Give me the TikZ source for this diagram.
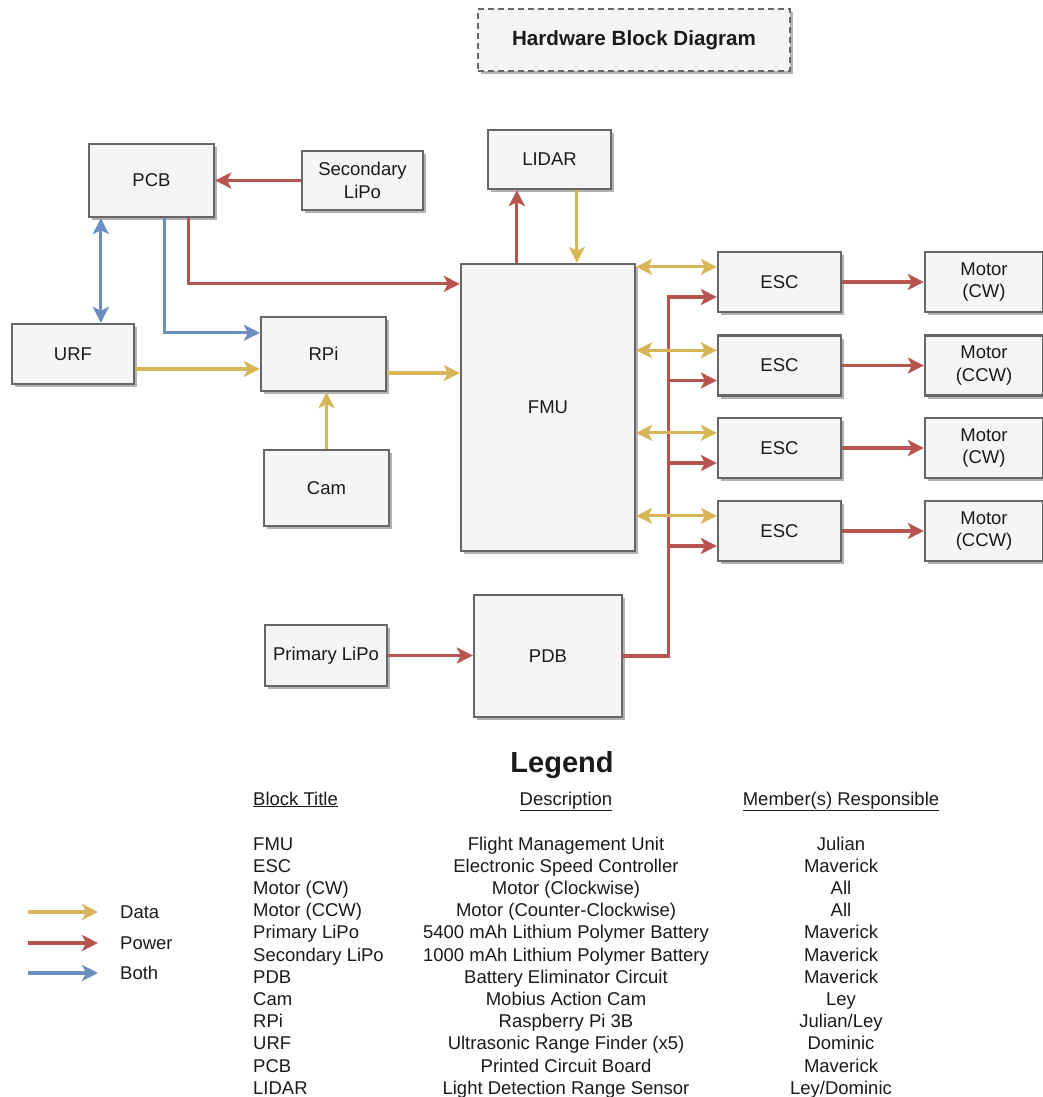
\documentclass[tikz,border=0pt]{standalone}
\usepackage{fontspec}
\setmainfont{Liberation Sans}
\usetikzlibrary{arrows.meta,shadows}
\definecolor{boxfill}{HTML}{F5F5F5}
\definecolor{boxline}{HTML}{666666}
\definecolor{datac}{HTML}{D6B656}
\definecolor{powerc}{HTML}{B85450}
\definecolor{bothc}{HTML}{6C8EBF}
\definecolor{ink}{HTML}{1A1A1A}

\begin{document}
\begin{tikzpicture}[x=1pt,y=-1pt,
  >={Stealth[length=16pt,width=16pt,inset=4pt]},
  blk/.style={draw=boxline, fill=boxfill, line width=2.3pt, inner sep=0pt,
    align=center, text=ink, font=\fontsize{18.5}{22.5}\selectfont,
    drop shadow={shadow xshift=2.5pt,shadow yshift=-3pt,opacity=0.3,fill=black}},
  dataln/.style={draw=datac, line width=3.2pt},
  powln/.style={draw=powerc, line width=3.2pt, line join=miter},
  bothln/.style={draw=bothc, line width=3.2pt, line join=miter},
  txt/.style={text=ink, inner sep=0pt, font=\fontsize{18.5}{22}\selectfont},
]
\useasboundingbox (0,0) rectangle (1042,1097);

% title
\node[blk, dash pattern=on 6pt off 4pt, minimum width=312pt, minimum height=62pt,
  font=\fontsize{20.6}{24}\selectfont\bfseries] (title) at (634,40) {Hardware Block Diagram};

% blocks
\node[blk, minimum width=125pt, minimum height=73pt] (pcb) at (151.5,180.5) {PCB};
\node[blk, minimum width=121pt, minimum height=59pt] (slipo) at (362.5,180.5) {Secondary\\LiPo};
\node[blk, minimum width=123pt, minimum height=59pt] (lidar) at (549.5,159.5) {LIDAR};
\node[blk, minimum width=122pt, minimum height=60pt] (urf) at (73,354) {URF};
\node[blk, minimum width=125pt, minimum height=74pt] (rpi) at (323.5,354) {RPi};
\node[blk, minimum width=125pt, minimum height=76pt] (cam) at (326.5,488) {Cam};
\node[blk, minimum width=174pt, minimum height=287pt] (fmu) at (548,407.5) {FMU};
\node[blk, minimum width=122pt, minimum height=61pt] (plipo) at (326,655.5) {Primary LiPo};
\node[blk, minimum width=148pt, minimum height=122pt] (pdb) at (548,656) {PDB};

\node[blk, minimum width=123pt, minimum height=60pt] (esc1) at (779.5,282) {ESC};
\node[blk, minimum width=123pt, minimum height=60pt] (esc2) at (779.5,365.5) {ESC};
\node[blk, minimum width=123pt, minimum height=60pt] (esc3) at (779.5,448) {ESC};
\node[blk, minimum width=123pt, minimum height=60pt] (esc4) at (779.5,531) {ESC};

\node[blk, minimum width=118pt, minimum height=60pt] (mot1) at (984,282) {Motor\\(CW)};
\node[blk, minimum width=118pt, minimum height=60pt] (mot2) at (984,365.5) {Motor\\(CCW)};
\node[blk, minimum width=118pt, minimum height=60pt] (mot3) at (984,448) {Motor\\(CW)};
\node[blk, minimum width=118pt, minimum height=60pt] (mot4) at (984,531) {Motor\\(CCW)};

% power
\draw[powln,->] (slipo.west) -- (pcb.east);
\draw[powln,->] ([xshift=101pt]pcb.south west) |- ([yshift=-21pt]fmu.north west);
\draw[powln,->] ([xshift=57pt]fmu.north west) -- ([xshift=57pt]fmu.north west |- lidar.south);
\draw[powln,->] (plipo.east) -- (plipo.east -| pdb.west);
\draw[powln,->] (pdb.east) -| ([xshift=-48pt,yshift=-15pt]esc1.west) -- ([yshift=-15pt]esc1.west);
\foreach \e in {esc2,esc3,esc4}
  \draw[powln,->] ([xshift=-48pt,yshift=-15pt]\e.west) -- ([yshift=-15pt]\e.west);
\foreach \i in {1,2,3,4}
  \draw[powln,->] (esc\i.east) -- (mot\i.west);

% both
\draw[bothln,<->] ([xshift=13pt]pcb.south west) -- ([xshift=13pt]pcb.south west |- urf.north);
\draw[bothln,->] ([xshift=77pt]pcb.south west) |- ([yshift=-17pt]rpi.north west);

% data
\draw[dataln,->] ([yshift=-15pt]urf.east) -- ([yshift=-15pt]urf.east -| rpi.west);
\draw[dataln,->] ([yshift=-19pt]rpi.east) -- ([yshift=-19pt]rpi.east -| fmu.west);
\draw[dataln,->] (cam.north) -- (cam.north |- rpi.south);
\draw[dataln,->] ([xshift=90pt]lidar.south west) -- ([xshift=90pt]lidar.south west |- fmu.north);
\foreach \i in {1,2,3,4}
  \draw[dataln,<->] ([yshift=-16pt]esc\i.north west -| fmu.east) -- ([yshift=-16pt]esc\i.north west);

% legend
\node[txt, font=\fontsize{29}{32}\selectfont\bfseries, anchor=base] (legtitle) at (562,772) {Legend};
\node[txt, anchor=base west] (hblock) at (253,805) {\underline{Block Title}};
\node[txt, anchor=base] (hdesc) at (566,805) {\underline{Description}};
\node[txt, anchor=base] (hmemb) at (841,805) {\underline{Member(s) Responsible}};

\foreach [count=\k from 0] \a/\b/\c in {
  FMU/Flight Management Unit/Julian,
  ESC/Electronic Speed Controller/Maverick,
  Motor (CW)/Motor (Clockwise)/All,
  Motor (CCW)/Motor (Counter-Clockwise)/All,
  Primary LiPo/5400 mAh Lithium Polymer Battery/Maverick,
  Secondary LiPo/1000 mAh Lithium Polymer Battery/Maverick,
  PDB/Battery Eliminator Circuit/Maverick,
  Cam/Mobius Action Cam/Ley,
  RPi/Raspberry Pi 3B/Julian{/}Ley,
  URF/Ultrasonic Range Finder (x5)/Dominic,
  PCB/Printed Circuit Board/Maverick,
  LIDAR/Light Detection Range Sensor/Ley{/}Dominic}
{
  \node[txt, anchor=base west] (lt\k) at (253,850+22.2*\k) {\a};
  \node[txt, anchor=base] (ld\k) at (566,850+22.2*\k) {\b};
  \node[txt, anchor=base] (lm\k) at (841,850+22.2*\k) {\c};
}

% line key
\coordinate (kd0) at (28,912); \coordinate (kd1) at (98,912);
\coordinate (kp0) at (28,943); \coordinate (kp1) at (98,943);
\coordinate (kb0) at (28,973); \coordinate (kb1) at (98,973);
\draw[dataln,->] (kd0) -- (kd1);
\draw[powln,->] (kp0) -- (kp1);
\draw[bothln,->] (kb0) -- (kb1);
\node[txt, anchor=west] (kdl) at (120,912) {Data};
\node[txt, anchor=west] (kpl) at (120,943) {Power};
\node[txt, anchor=west] (kbl) at (120,973) {Both};
\end{tikzpicture}
\end{document}
